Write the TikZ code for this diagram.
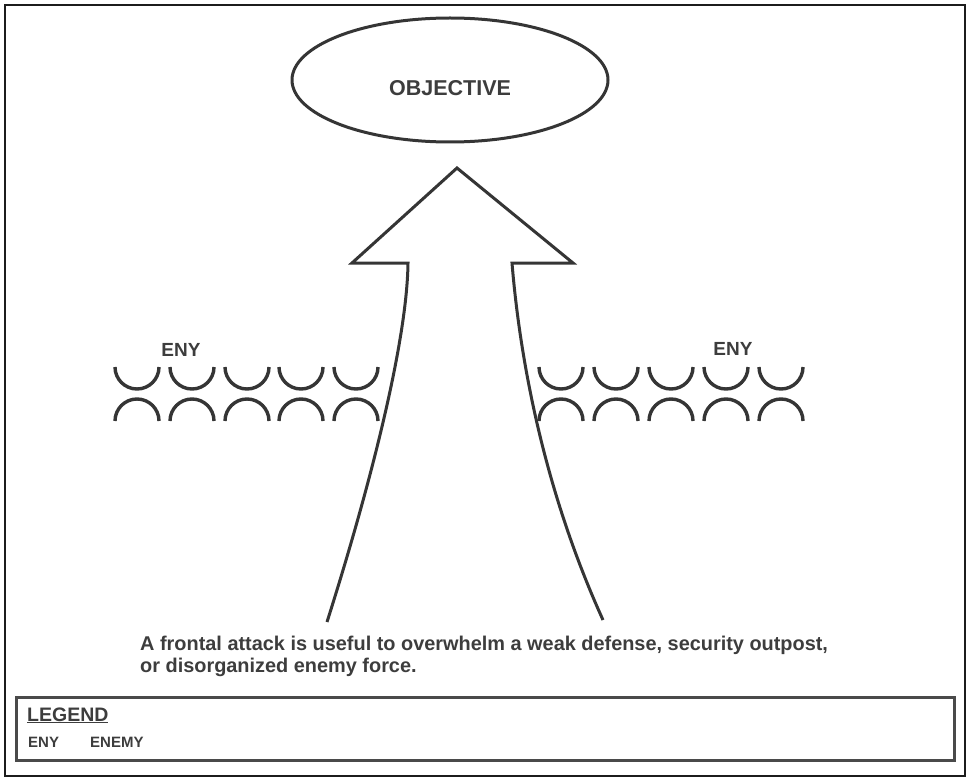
\documentclass[tikz,border=0pt]{standalone}
\usepackage{fontspec}
\setmainfont{Liberation Sans}
\usetikzlibrary{shapes.geometric}
\definecolor{ink}{HTML}{353535}
\definecolor{txt}{HTML}{3D3D3D}
\definecolor{frame}{HTML}{1C1C1C}
\definecolor{legendline}{HTML}{4A4A4A}

\begin{document}
\begin{tikzpicture}[x=1pt,y=-1pt,
  stroke/.style={draw=ink, line width=3pt, line join=miter},
  enyarc/.style={draw=ink, line width=3.4pt},
  bigtxt/.style={font=\fontsize{19}{21}\selectfont\bfseries, text=txt, inner sep=0pt},
  smalltxt/.style={font=\fontsize{15}{17}\selectfont\bfseries, text=txt, inner sep=0pt}]

\useasboundingbox (0,0) rectangle (968,778);

% page frame
\draw[draw=frame, line width=2.5pt] (5,5) rectangle (965,776);

% objective
\node[ellipse, stroke, minimum width=316pt, minimum height=124pt, inner sep=0pt] (obj) at (450,80) {};
\node[bigtxt, font=\fontsize{21.5}{24}\selectfont\bfseries, anchor=base] (objtxt) at (450,96) {OBJECTIVE};

% attack arrow
\coordinate (tip) at (457,168);
\coordinate (hl) at (352,263);
\coordinate (hr) at (573,263);
\coordinate (sl) at (408,263);
\coordinate (sr) at (512,263);
\coordinate (bl) at (327,622);
\coordinate (br) at (603,620);
\draw[stroke] (bl) .. controls (372,480) and (407,340) .. (sl) -- (hl) -- (tip) -- (hr) -- (sr)
  .. controls (520,360) and (544,490) .. (br);

% enemy positions
\foreach \cx in {137,192,247,301,356,561,616,671,726,781} {
  \draw[enyarc] (\cx-22,367) arc[start angle=180, end angle=360, radius=22pt];
  \draw[enyarc] (\cx-22,421) arc[start angle=180, end angle=0, radius=22pt];
}
\node[bigtxt, anchor=base] (enyl) at (181,356) {ENY};
\node[bigtxt, anchor=base] (enyr) at (733,355) {ENY};

% caption (base anchor sits on the last line)
\node[bigtxt, font=\fontsize{19.9}{21.5}\selectfont\bfseries, anchor=base west, align=left] (caption) at (140,672)
  {A frontal attack is useful to overwhelm a weak defense, security outpost,\\or disorganized enemy force.};

% legend
\draw[draw=legendline, line width=3pt] (16,697) rectangle (954,760);
\node[bigtxt, font=\fontsize{19.5}{21}\selectfont\bfseries, anchor=base west] (legtitle) at (27,721) {\underline{LEGEND}};
\node[smalltxt, anchor=base west] (legabbr) at (28,747) {ENY};
\node[smalltxt, anchor=base west] (legfull) at (90,747) {ENEMY};
\end{tikzpicture}
\end{document}
